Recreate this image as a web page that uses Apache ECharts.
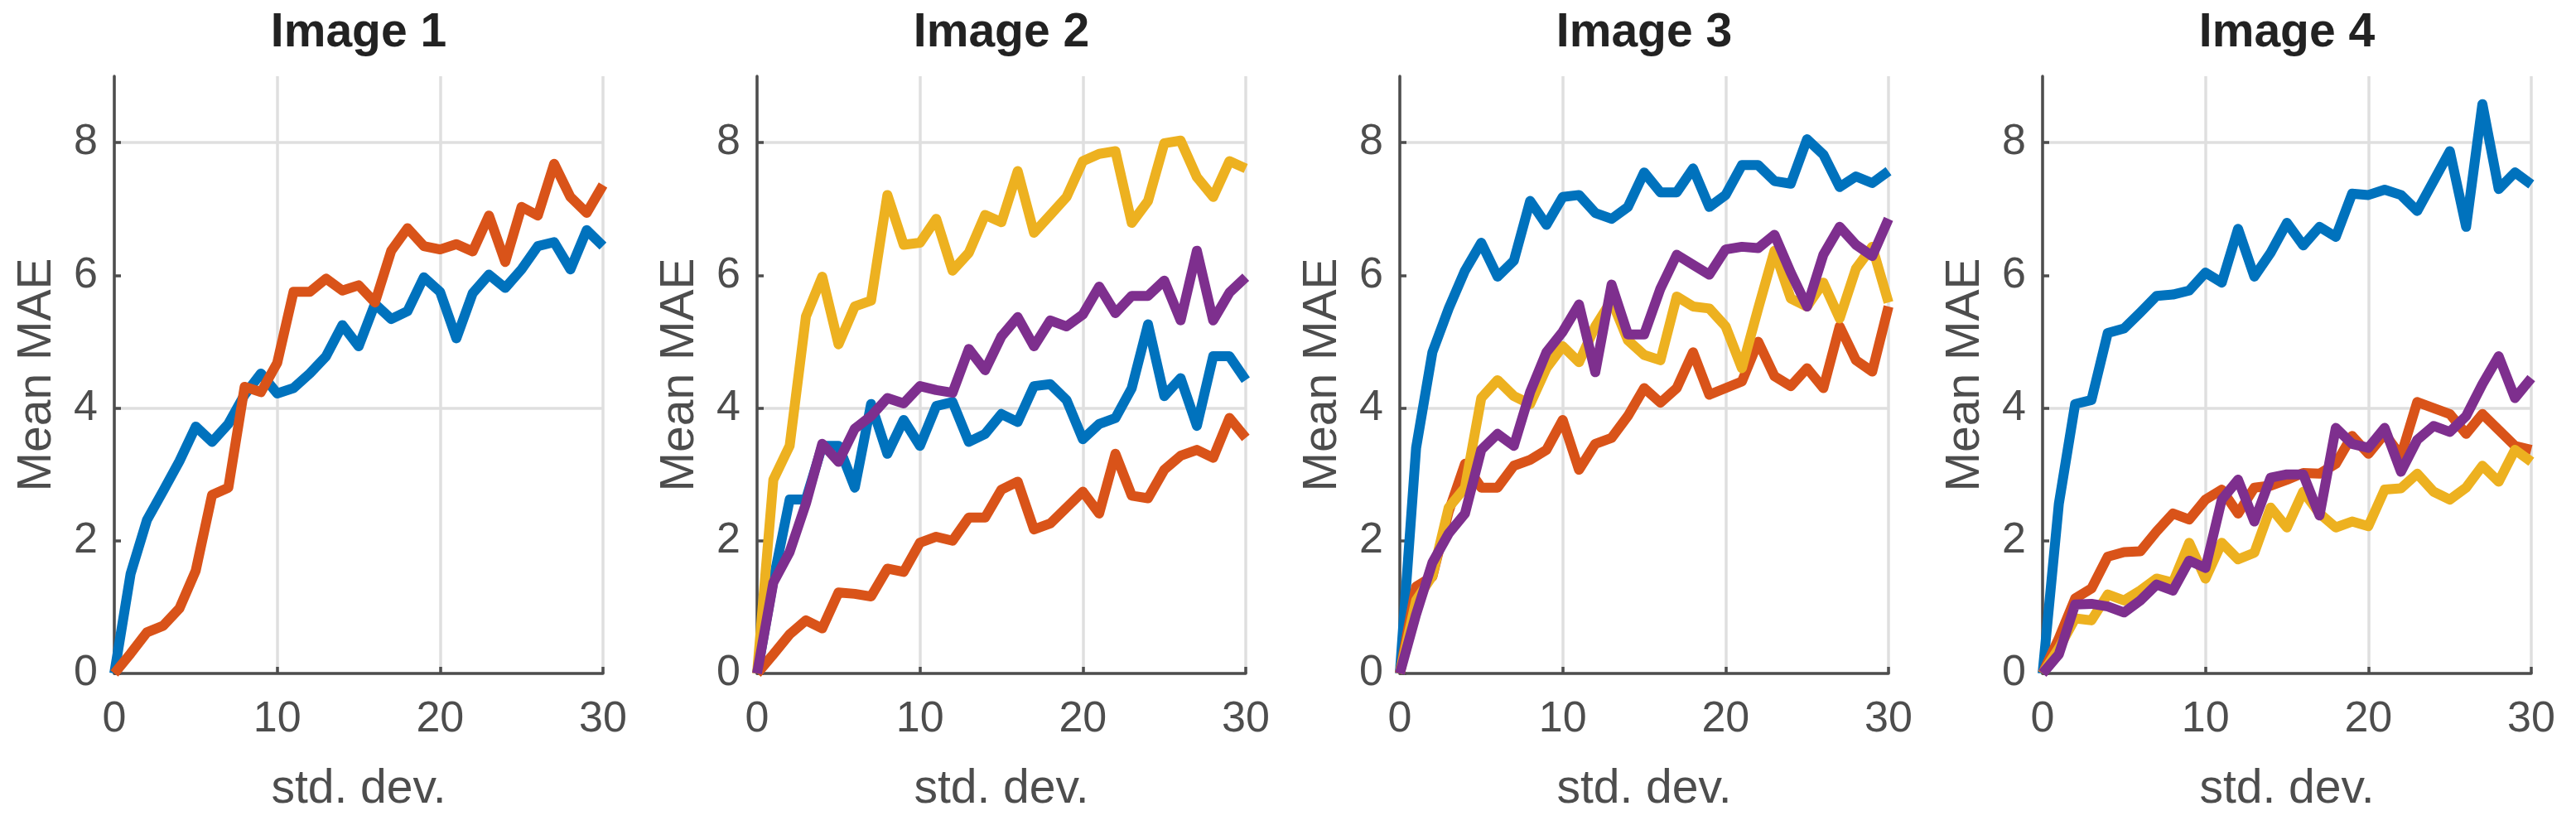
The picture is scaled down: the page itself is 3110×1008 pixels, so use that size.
<!DOCTYPE html>
<html>
<head>
<meta charset="utf-8">
<title>Mean MAE vs std. dev.</title>
<script src="https://cdn.jsdelivr.net/npm/echarts@6.0.0/dist/echarts.min.js"></script>
<style>
  html, body { margin: 0; padding: 0; background: #fff; }
  #chart { width: 3110px; height: 1008px; }
</style>
</head>
<body>
<div id="chart"></div>
<script>
// x values (noise std. dev.)
var stdDev = [0, 1, 2, 3, 4, 5, 6, 7, 8, 9, 10, 11, 12, 13, 14, 15, 16, 17, 18, 19, 20, 21, 22, 23, 24, 25, 26, 27, 28, 29, 30];
var panelTitles = ['Image 1', 'Image 2', 'Image 3', 'Image 4'];
var yTicks = [0, 2, 4, 6, 8];

// Image 1
var img1Blue = [0, 1.5, 2.31, 2.75, 3.2, 3.72, 3.49, 3.76, 4.2, 4.52, 4.22, 4.3, 4.52, 4.78, 5.25, 4.93, 5.57, 5.34, 5.46, 5.97, 5.75, 5.05, 5.73, 6.01, 5.81, 6.09, 6.44, 6.5, 6.09, 6.68, 6.44];
var img1Orange = [0, 0.3, 0.62, 0.72, 0.98, 1.55, 2.69, 2.8, 4.32, 4.24, 4.68, 5.75, 5.75, 5.95, 5.77, 5.85, 5.59, 6.37, 6.71, 6.44, 6.39, 6.47, 6.36, 6.9, 6.2, 7.03, 6.9, 7.68, 7.18, 6.94, 7.36];

// Image 2
var img2Blue = [0, 1.4, 2.62, 2.62, 3.43, 3.43, 2.8, 4.06, 3.31, 3.82, 3.43, 4.03, 4.09, 3.49, 3.61, 3.91, 3.79, 4.33, 4.36, 4.12, 3.53, 3.76, 3.85, 4.3, 5.26, 4.18, 4.45, 3.73, 4.78, 4.78, 4.42];
var img2Orange = [0, 0.29, 0.59, 0.8, 0.68, 1.22, 1.2, 1.16, 1.58, 1.53, 1.97, 2.06, 2.0, 2.35, 2.35, 2.77, 2.89, 2.17, 2.26, 2.5, 2.74, 2.41, 3.31, 2.68, 2.64, 3.07, 3.28, 3.37, 3.25, 3.85, 3.55];
var img2Yellow = [0, 2.92, 3.43, 5.38, 5.98, 4.96, 5.53, 5.62, 7.21, 6.46, 6.49, 6.85, 6.07, 6.34, 6.91, 6.8, 7.57, 6.64, 6.91, 7.18, 7.72, 7.83, 7.87, 6.79, 7.12, 7.99, 8.03, 7.48, 7.18, 7.72, 7.61];
var img2Purple = [0, 1.37, 1.83, 2.56, 3.46, 3.19, 3.69, 3.88, 4.15, 4.07, 4.33, 4.27, 4.23, 4.89, 4.57, 5.08, 5.37, 4.93, 5.32, 5.23, 5.41, 5.83, 5.43, 5.69, 5.69, 5.92, 5.32, 6.37, 5.32, 5.74, 5.97];

// Image 3
var img3Blue = [0, 3.4, 4.84, 5.5, 6.07, 6.49, 5.98, 6.22, 7.12, 6.76, 7.18, 7.21, 6.94, 6.85, 7.03, 7.55, 7.25, 7.25, 7.61, 7.03, 7.21, 7.66, 7.66, 7.42, 7.38, 8.05, 7.82, 7.33, 7.49, 7.39, 7.57];
var img3Orange = [0, 1.31, 1.46, 2.44, 3.16, 2.8, 2.8, 3.13, 3.22, 3.37, 3.82, 3.07, 3.46, 3.55, 3.88, 4.3, 4.08, 4.3, 4.84, 4.2, 4.3, 4.4, 5.0, 4.48, 4.33, 4.6, 4.3, 5.23, 4.72, 4.55, 5.53];
var img3Yellow = [0, 1.1, 1.47, 2.5, 2.8, 4.15, 4.42, 4.18, 4.06, 4.6, 4.93, 4.69, 5.23, 5.62, 5.02, 4.8, 4.72, 5.68, 5.53, 5.5, 5.23, 4.6, 5.5, 6.37, 5.65, 5.53, 5.89, 5.35, 6.1, 6.43, 5.59];
var img3Purple = [0, 0.89, 1.67, 2.11, 2.41, 3.37, 3.61, 3.43, 4.24, 4.84, 5.15, 5.56, 4.54, 5.86, 5.11, 5.11, 5.8, 6.31, 6.16, 6.01, 6.39, 6.43, 6.41, 6.61, 6.04, 5.53, 6.31, 6.73, 6.46, 6.29, 6.85];

// Image 4
var img4Blue = [0, 2.56, 4.06, 4.12, 5.13, 5.2, 5.44, 5.69, 5.71, 5.77, 6.04, 5.89, 6.7, 5.98, 6.34, 6.79, 6.45, 6.73, 6.58, 7.23, 7.21, 7.29, 7.21, 6.97, 7.42, 7.87, 6.73, 8.58, 7.3, 7.55, 7.37];
var img4Orange = [0, 0.53, 1.13, 1.28, 1.76, 1.83, 1.84, 2.14, 2.41, 2.32, 2.62, 2.77, 2.41, 2.8, 2.83, 2.92, 3.02, 3.01, 3.16, 3.58, 3.31, 3.61, 3.28, 4.09, 4.0, 3.91, 3.61, 3.91, 3.67, 3.43, 3.37];
var img4Yellow = [0, 0.38, 0.83, 0.8, 1.19, 1.1, 1.25, 1.43, 1.37, 1.97, 1.43, 1.97, 1.72, 1.82, 2.5, 2.2, 2.74, 2.41, 2.2, 2.29, 2.22, 2.77, 2.79, 3.01, 2.74, 2.62, 2.8, 3.13, 2.89, 3.37, 3.19];
var img4Purple = [0, 0.29, 1.04, 1.05, 1.01, 0.92, 1.1, 1.34, 1.25, 1.7, 1.59, 2.62, 2.92, 2.29, 2.95, 3.0, 3.0, 2.38, 3.7, 3.46, 3.4, 3.7, 3.04, 3.52, 3.73, 3.64, 3.88, 4.36, 4.78, 4.15, 4.45];

var BLUE = '#0072BD', ORANGE = '#D95319', YELLOW = '#EDB120', PURPLE = '#7E2F8E';

var panels = [
    [[img1Blue, BLUE], [img1Orange, ORANGE]],
    [[img2Blue, BLUE], [img2Orange, ORANGE], [img2Yellow, YELLOW], [img2Purple, PURPLE]],
    [[img3Blue, BLUE], [img3Orange, ORANGE], [img3Yellow, YELLOW], [img3Purple, PURPLE]],
    [[img4Blue, BLUE], [img4Orange, ORANGE], [img4Yellow, YELLOW], [img4Purple, PURPLE]]
];

var FONT = '"Liberation Sans", Arial, Helvetica, sans-serif';
var AXIS_COLOR = '#4d4d4d';
var GRID_COLOR = '#dfdfdf';

var gridLeft = 138, gridStep = 776, gridWidth = 590, gridTop = 92, gridHeight = 721;

var option = {
    backgroundColor: '#fff',
    animation: false,
    title: [],
    grid: [],
    xAxis: [],
    yAxis: [],
    series: []
};

// y axis runs 0..9 in steps of 1; only the even values up to 8 get a label,
// a grid line and a tick (as in the reference)
function isYTick(v) { return yTicks.indexOf(v) >= 0; }

panels.forEach(function(lines, k) {
    var left = gridLeft + gridStep * k;
    option.title.push({
        text: panelTitles[k],
        left: left + gridWidth / 2,
        top: 12,
        padding: 0,
        textAlign: 'center',
        textStyle: { fontFamily: FONT, fontSize: 57, fontWeight: 'bold', color: '#222' }
    });
    option.grid.push({
        left: left, top: gridTop, width: gridWidth, height: gridHeight,
        containLabel: false, outerBoundsMode: 'none'
    });
    option.xAxis.push({
        type: 'value', gridIndex: k, min: 0, max: 30, interval: 10,
        name: 'std. dev.', nameLocation: 'middle', nameGap: 112,
        nameTextStyle: { fontFamily: FONT, fontSize: 57, color: AXIS_COLOR },
        axisLine: { show: true, onZero: false, lineStyle: { color: AXIS_COLOR, width: 3.5 } },
        axisTick: { show: true, inside: true, length: 8, lineStyle: { color: AXIS_COLOR, width: 3.5 } },
        axisLabel: { fontFamily: FONT, fontSize: 52, color: AXIS_COLOR, margin: 30 },
        splitLine: { show: true, lineStyle: { color: GRID_COLOR, width: 3.5 } }
    });
    option.yAxis.push({
        type: 'value', gridIndex: k, min: 0, max: 9, interval: 1,
        name: 'Mean MAE', nameLocation: 'middle', nameGap: 64, nameRotate: 90,
        nameTextStyle: { fontFamily: FONT, fontSize: 57, color: AXIS_COLOR },
        axisLine: { show: true, onZero: false, lineStyle: { color: AXIS_COLOR, width: 3.5 } },
        axisTick: { show: true, inside: true, length: 8, customValues: yTicks, lineStyle: { color: AXIS_COLOR, width: 3.5 } },
        axisLabel: {
            fontFamily: FONT, fontSize: 52, color: AXIS_COLOR, margin: 20,
            formatter: function(v) { return isYTick(v) ? String(v) : ''; }
        },
        splitLine: { show: true, lineStyle: { color: [GRID_COLOR, 'rgba(0,0,0,0)'], width: 3.5 } }
    });
    lines.forEach(function(l) {
        option.series.push({
            type: 'line',
            xAxisIndex: k, yAxisIndex: k,
            data: stdDev.map(function(x, i) { return [x, l[0][i]]; }),
            showSymbol: false, symbol: 'none',
            lineStyle: { color: l[1], width: 12, join: 'round' },
            itemStyle: { color: l[1] },
            emphasis: { disabled: true }
        });
    });
});

var myChart = echarts.init(document.getElementById('chart'));
myChart.setOption(option);
</script>
</body>
</html>
